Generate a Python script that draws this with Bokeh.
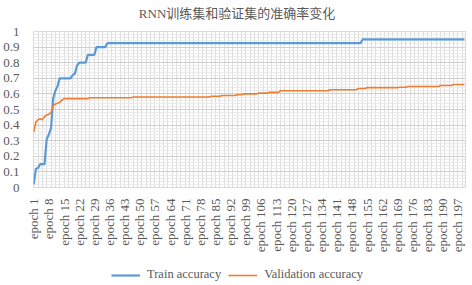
import math
from bokeh.plotting import figure
from bokeh.layouts import column
from bokeh.models import Range1d, FixedTicker, Legend, LegendItem
from bokeh.core.properties import value
from bokeh.embed import file_html
from bokeh.resources import INLINE

# ---------------- data ----------------
title_text = "RNN训练集和验证集的准确率变化"
epochs = list(range(1, 201))

train_acc = [
    0.02, 0.12, 0.125, 0.15, 0.15, 0.15, 0.31, 0.34, 0.38, 0.57,
    0.62, 0.65, 0.70, 0.70, 0.70, 0.70, 0.70, 0.70, 0.72, 0.73,
    0.78, 0.80, 0.80, 0.80, 0.80, 0.85, 0.85, 0.85, 0.85, 0.90,
    0.90, 0.90, 0.90, 0.90, 0.925, 0.925, 0.925, 0.925, 0.925, 0.925,
    0.925, 0.925, 0.925, 0.925, 0.925, 0.925, 0.925, 0.925, 0.925, 0.925,
    0.925, 0.925, 0.925, 0.925, 0.925, 0.925, 0.925, 0.925, 0.925, 0.925,
    0.925, 0.925, 0.925, 0.925, 0.925, 0.925, 0.925, 0.925, 0.925, 0.925,
    0.925, 0.925, 0.925, 0.925, 0.925, 0.925, 0.925, 0.925, 0.925, 0.925,
    0.925, 0.925, 0.925, 0.925, 0.925, 0.925, 0.925, 0.925, 0.925, 0.925,
    0.925, 0.925, 0.925, 0.925, 0.925, 0.925, 0.925, 0.925, 0.925, 0.925,
    0.925, 0.925, 0.925, 0.925, 0.925, 0.925, 0.925, 0.925, 0.925, 0.925,
    0.925, 0.925, 0.925, 0.925, 0.925, 0.925, 0.925, 0.925, 0.925, 0.925,
    0.925, 0.925, 0.925, 0.925, 0.925, 0.925, 0.925, 0.925, 0.925, 0.925,
    0.925, 0.925, 0.925, 0.925, 0.925, 0.925, 0.925, 0.925, 0.925, 0.925,
    0.925, 0.925, 0.925, 0.925, 0.925, 0.925, 0.925, 0.925, 0.925, 0.925,
    0.925, 0.925, 0.95, 0.95, 0.95, 0.95, 0.95, 0.95, 0.95, 0.95,
    0.95, 0.95, 0.95, 0.95, 0.95, 0.95, 0.95, 0.95, 0.95, 0.95,
    0.95, 0.95, 0.95, 0.95, 0.95, 0.95, 0.95, 0.95, 0.95, 0.95,
    0.95, 0.95, 0.95, 0.95, 0.95, 0.95, 0.95, 0.95, 0.95, 0.95,
    0.95, 0.95, 0.95, 0.95, 0.95, 0.95, 0.95, 0.95, 0.95, 0.95,
]

val_acc = [
    0.355, 0.42, 0.435, 0.44, 0.435, 0.455, 0.465, 0.47, 0.48, 0.525,
    0.535, 0.54, 0.545, 0.56, 0.57, 0.57, 0.57, 0.57, 0.57, 0.57,
    0.57, 0.57, 0.57, 0.57, 0.57, 0.57, 0.575, 0.575, 0.575, 0.575,
    0.575, 0.575, 0.575, 0.575, 0.575, 0.575, 0.575, 0.575, 0.575, 0.575,
    0.575, 0.575, 0.575, 0.575, 0.575, 0.575, 0.58, 0.58, 0.58, 0.58,
    0.58, 0.58, 0.58, 0.58, 0.58, 0.58, 0.58, 0.58, 0.58, 0.58,
    0.58, 0.58, 0.58, 0.58, 0.58, 0.58, 0.58, 0.58, 0.58, 0.58,
    0.58, 0.58, 0.58, 0.58, 0.58, 0.58, 0.58, 0.58, 0.58, 0.58,
    0.58, 0.58, 0.585, 0.585, 0.585, 0.585, 0.585, 0.59, 0.59, 0.59,
    0.59, 0.59, 0.59, 0.59, 0.595, 0.595, 0.595, 0.60, 0.60, 0.60,
    0.60, 0.60, 0.60, 0.60, 0.605, 0.605, 0.605, 0.605, 0.605, 0.61,
    0.61, 0.61, 0.61, 0.61, 0.62, 0.62, 0.62, 0.62, 0.62, 0.62,
    0.62, 0.62, 0.62, 0.62, 0.62, 0.62, 0.62, 0.62, 0.62, 0.62,
    0.62, 0.62, 0.62, 0.62, 0.62, 0.62, 0.62, 0.627, 0.627, 0.627,
    0.627, 0.627, 0.627, 0.627, 0.627, 0.627, 0.627, 0.627, 0.627, 0.627,
    0.635, 0.635, 0.635, 0.635, 0.64, 0.64, 0.64, 0.64, 0.64, 0.64,
    0.64, 0.64, 0.64, 0.64, 0.64, 0.64, 0.64, 0.64, 0.64, 0.643,
    0.643, 0.643, 0.643, 0.647, 0.647, 0.647, 0.647, 0.647, 0.647, 0.647,
    0.647, 0.647, 0.647, 0.647, 0.647, 0.647, 0.647, 0.647, 0.654, 0.654,
    0.654, 0.654, 0.654, 0.654, 0.66, 0.66, 0.66, 0.66, 0.66, 0.66,
]

tick_epochs = [1, 8, 15, 22, 29, 36, 43, 50, 57, 64, 71, 78, 85, 92, 99,
               106, 113, 120, 127, 134, 141, 148, 155, 162, 169, 176, 183,
               190, 197]
y_ticks = [0, 0.1, 0.2, 0.3, 0.4, 0.5, 0.6, 0.7, 0.8, 0.9, 1.0]
y_labels = ["0", "0.1", "0.2", "0.3", "0.4", "0.5", "0.6", "0.7", "0.8", "0.9", "1"]
series_names = ["Train accuracy", "Validation accuracy"]
series_colors = ["#5b9bd5", "#ed7d31"]
series_widths = [2.2, 1.6]
series_values = [train_acc, val_acc]

# ---------------- styles ----------------
SERIF = "Liberation Serif"
TITLE_FONT = "Liberation Serif, Noto Sans CJK SC"
TXT = "#595959"

# ---------------- title strip ----------------
tf = figure(width=472, height=23, output_backend="svg",
            toolbar_location=None, x_range=Range1d(30, 465),
            y_range=Range1d(0, 23),
            min_border_left=30, min_border_right=7, min_border_top=0,
            min_border_bottom=0)
tf.axis.visible = False
tf.grid.visible = False
tf.outline_line_color = None
tf.border_fill_color = "white"
tf.background_fill_color = "white"
tf.text(x=[235], y=[10.5], text=[title_text], text_align="center",
        text_baseline="middle", text_font=value(TITLE_FONT),
        text_font_size="13px", text_color=TXT)

# ---------------- main figure ----------------
p = figure(width=472, height=239, output_backend="svg", toolbar_location=None,
           x_range=Range1d(0.9, 200.5), y_range=Range1d(0, 1),
           min_border_left=30, min_border_right=7, min_border_top=8,
           min_border_bottom=75)

p.outline_line_color = "#d9d9d9"
p.background_fill_color = "white"
p.border_fill_color = "white"

# grids
p.xgrid.ticker = FixedTicker(ticks=list(range(1, 201, 2)))
p.xgrid.grid_line_color = "#dddddd"
p.xgrid.grid_line_width = 1
p.ygrid.ticker = FixedTicker(ticks=y_ticks,
                             minor_ticks=[i / 50 for i in range(51)])
p.ygrid.grid_line_color = "#d0d0d0"
p.ygrid.minor_grid_line_color = "#ebebeb"

# x axis
xa = p.xaxis[0]
xa.ticker = FixedTicker(ticks=tick_epochs)
xa.major_label_overrides = {e: f"epoch {e}" for e in tick_epochs}
xa.major_label_orientation = math.pi / 2
xa.major_label_text_font = SERIF
xa.major_label_text_font_size = "13px"
xa.major_label_text_color = TXT
xa.major_label_standoff = 5
xa.axis_line_color = "#d9d9d9"
xa.major_tick_line_color = None
xa.minor_tick_line_color = None

# y axis
ya = p.yaxis[0]
ya.ticker = FixedTicker(ticks=y_ticks)
ya.major_label_overrides = {t: l for t, l in zip(y_ticks, y_labels)}
ya.major_label_text_font = SERIF
ya.major_label_text_font_size = "13px"
ya.major_label_text_color = TXT
ya.major_label_standoff = 8
ya.axis_line_color = None
ya.major_tick_line_color = None
ya.minor_tick_line_color = None

for vals, col, w in zip(series_values, series_colors, series_widths):
    p.line(epochs, vals, line_color=col, line_width=w)

# ---------------- legend strip ----------------
lg = figure(width=472, height=23, output_backend="svg", toolbar_location=None,
            x_range=Range1d(0, 1), y_range=Range1d(5, 6),
            min_border_left=30, min_border_right=0, min_border_top=0,
            min_border_bottom=0)
lg.axis.visible = False
lg.grid.visible = False
lg.outline_line_color = None
lg.border_fill_color = "white"
lg.background_fill_color = "white"
items = []
for name, vals, col, w in zip(series_names, series_values, series_colors, series_widths):
    rr = lg.line(epochs, vals, line_color=col, line_width=w)
    items.append(LegendItem(label=name, renderers=[rr]))

legend = Legend(items=items, orientation="horizontal", location=(78, 3),
                glyph_width=29, glyph_height=14, label_standoff=7, spacing=7,
                padding=2, margin=0, border_line_color=None,
                background_fill_alpha=0,
                label_text_font=SERIF, label_text_font_size="12.5px",
                label_text_color=TXT, label_height=14)
lg.add_layout(legend)

layout = column(tf, p, lg, spacing=0)
open("out.html", "w").write(file_html(layout, INLINE))
